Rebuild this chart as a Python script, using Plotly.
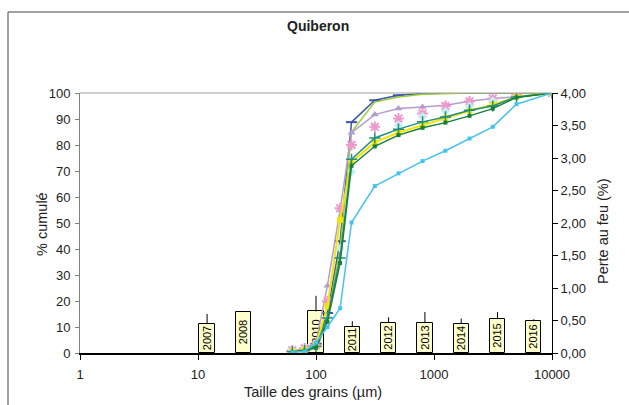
import plotly.graph_objects as go

# Sieve openings (µm) and cumulative passing (%) per campaign
sizes = [63, 80, 100, 125, 160, 200, 315, 500, 800, 1250, 2000, 3150, 5000, 10000]

cum_blue = [0.8, 1.5, 3.5, 15.4, 43, 88.8, 97.2, 99.1, 99.8, 100, 100, 100, 100, 100]
cum_lgreen = [0.6, 1.2, 4.5, 13, 40, 85, 96.5, 98.5, 99.5, 99.8, 100, 100, 100, 100]
cum_lilac = [0.7, 1.6, 4, 25.9, 55, 84.7, 91.7, 94, 94.6, 95.3, 96.8, 97.9, 98.5, 100]
cum_pink = [1, 1.8, 3, 19.9, 55.7, 80, 87, 90.2, 92.1, 95, 96.8, 97.9, 99.4, 100]
cum_pale = [0.8, 1.5, 2.5, 14, 40.3, 69.7, 80, 87.6, 91, 93, 95, 97, 98.5, 100]
cum_yellow = [0.6, 1.3, 3, 18, 51.2, 73.5, 81, 84.8, 87.6, 90.4, 93.2, 95.5, 98.5, 100]
cum_teal = [0.5, 1.0, 2.5, 13.5, 36.5, 74.5, 82.7, 86.1, 88.9, 90.8, 93.4, 95, 98.5, 100]
cum_dgreen = [0.4, 0.9, 2.0, 12, 34.6, 72, 79.5, 83.8, 86.6, 88.6, 91.2, 94, 98.3, 100]
cum_cyan = [0.3, 0.6, 4, 10, 17.2, 50.2, 64.2, 69.1, 73.8, 77.8, 82.5, 87, 95.7, 100]

# Loss on ignition (%) per year, with upper error
years = [2007, 2008, 2010, 2011, 2012, 2013, 2014, 2015, 2016]
loi = [0.45, 0.63, 0.64, 0.40, 0.46, 0.46, 0.45, 0.52, 0.49]
loi_err = [0.15, 0.01, 0.24, 0.09, 0.09, 0.17, 0.08, 0.11, 0.03]
year_labels = [str(y) for y in years]

x_ticks = [1, 10, 100, 1000, 10000]
x_ticktext = ["1", "10", "100", "1000", "10000"]

W, H = 629, 405
ML, MR, MT, MB = 80, 77, 93, 52
PW, PH = W - ML - MR, H - MT - MB


def px(x):
    return (x - ML) / PW


def py(y):
    return (H - MB - y) / PH


fig = go.Figure()

# Bars on the base (right) axis so the curves are drawn over them
fig.add_trace(go.Bar(
    x=years, y=loi, width=0.42,
    marker=dict(color="#FFFFCC", line=dict(color="#000000", width=1)),
    error_y=dict(type="data", array=loi_err, arrayminus=[0] * len(loi_err),
                 symmetric=False, color="#000000", thickness=1, width=0),
    text=year_labels, textposition="inside", textangle=-90,
    insidetextanchor="middle", constraintext="none",
    textfont=dict(family="Liberation Sans", size=11, color="#000000"),
    xaxis="x", yaxis="y", showlegend=False, hoverinfo="skip",
))

curves = [
    ("2007", cum_blue, "#3A55A8", "lines+markers", dict(symbol="line-ew", size=8, line=dict(width=2, color="#3A55A8"))),
    ("2008", cum_lgreen, "#9ACD32", "lines", None),
    ("2010", cum_lilac, "#B39DD0", "lines+markers", dict(symbol="triangle-up", size=7)),
    ("2011", cum_pink, "#EE99CC", "markers", dict(symbol="asterisk-open", size=9, line=dict(width=2, color="#EE99CC"))),
    ("2012", cum_pale, "#C6ECF0", "markers", dict(symbol="diamond", size=7)),
    ("2013", cum_yellow, "#F5E400", "lines+markers", dict(symbol="square", size=6)),
    ("2014", cum_teal, "#1F8F7F", "lines+markers", dict(symbol="cross-thin-open", size=8, line=dict(width=1.5, color="#1F8F7F"))),
    ("2015", cum_dgreen, "#17803D", "lines+markers", dict(symbol="square", size=4)),
    ("2016", cum_cyan, "#45C3EE", "lines+markers", dict(symbol="square", size=4)),
]
for name, vals, col, mode, mk in curves:
    kw = dict(x=sizes, y=vals, name=name, mode=mode, xaxis="x2", yaxis="y2",
              showlegend=False, line=dict(color=col, width=2 if col == "#F5E400" else 1.5))
    if mk is not None:
        m = dict(color=col)
        m.update(mk)
        kw["marker"] = m
    fig.add_trace(go.Scatter(**kw))

tick_font = dict(family="Liberation Sans", size=13, color="#222222")
title_font = dict(family="Liberation Sans", size=14.5, color="#222222")

fig.update_layout(
    width=W, height=H,
    margin=dict(l=ML, r=MR, t=MT, b=MB, pad=0),
    paper_bgcolor="white", plot_bgcolor="white",
    separators=",.",
    font=dict(family="Liberation Sans", size=13, color="#222222"),
    bargap=0,
    xaxis=dict(type="linear", range=[2003.5, 2016.5], visible=False,
               anchor="y", fixedrange=True),
    yaxis=dict(range=[0, 4], side="right", anchor="x", showgrid=False, zeroline=False,
               showline=True, linecolor="#000000", linewidth=1,
               ticks="outside", ticklen=5, tickcolor="#000000",
               dtick=0.5, tick0=0, tickformat=".2f", tickfont=tick_font),
    xaxis2=dict(type="log", range=[0, 4], overlaying="x", anchor="y2", side="bottom",
                showgrid=False, zeroline=False, showline=True, linecolor="#000000",
                linewidth=1.5, ticks="outside", ticklen=5, tickcolor="#000000",
                ticklabelstandoff=4,
                tickvals=x_ticks, ticktext=x_ticktext, tickfont=tick_font),
    yaxis2=dict(range=[0, 100], overlaying="y", anchor="x2", side="left",
                showgrid=False, zeroline=False, showline=True, linecolor="#808080",
                linewidth=1, ticks="outside", ticklen=4, tickcolor="#808080",
                ticklabelstandoff=2,
                dtick=10, tick0=0, tickfont=tick_font),
    shapes=[
        # chart frame
        dict(type="rect", xref="paper", yref="paper",
             x0=px(8), x1=px(W + 20), y0=py(H + 20), y1=py(12),
             line=dict(color="#444444", width=1), fillcolor="rgba(0,0,0,0)", layer="below"),
        # top edge of the plot area
        dict(type="line", xref="paper", yref="paper", x0=0, x1=1, y0=1, y1=1,
             line=dict(color="#A0A0A0", width=1)),
    ],
    annotations=[
        dict(text="<b>Quiberon</b>", xref="paper", yref="paper", x=px(318), y=py(26),
             xanchor="center", yanchor="middle", showarrow=False,
             font=dict(family="Liberation Sans", size=14, color="#222222")),
        dict(text="% cumulé", xref="paper", yref="paper", x=px(42), y=py(224),
             xanchor="center", yanchor="middle", textangle=-90, showarrow=False,
             font=title_font),
        dict(text="Perte au feu (%)", xref="paper", yref="paper", x=px(603), y=py(231),
             xanchor="center", yanchor="middle", textangle=-90, showarrow=False,
             font=title_font),
        dict(text="Taille des grains (µm)", xref="paper", yref="paper", x=px(313), y=py(392),
             xanchor="center", yanchor="middle", showarrow=False, font=title_font),
    ],
)

fig.write_html("out.html")
